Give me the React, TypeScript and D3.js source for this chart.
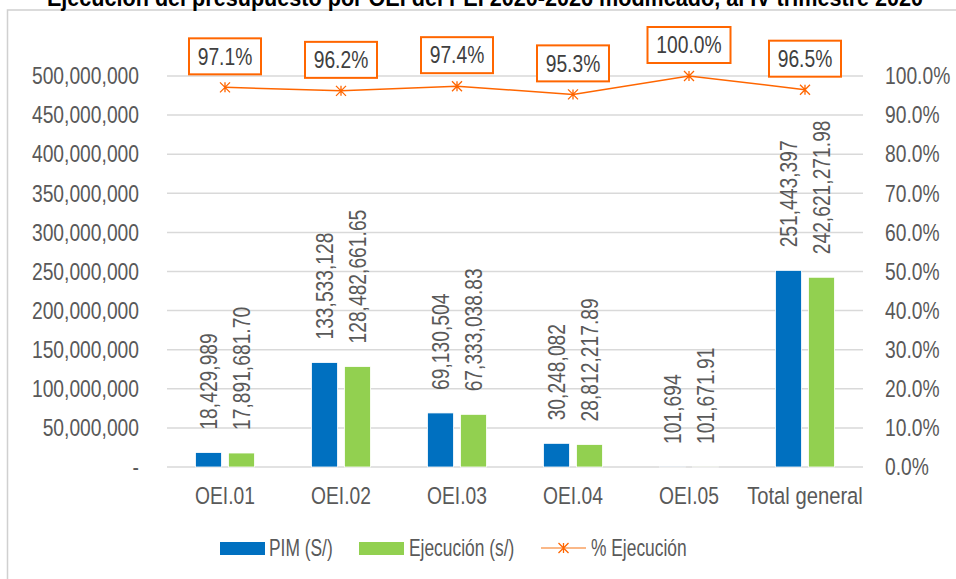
import React from 'react'
import * as d3 from 'd3'

const categories = ['OEI.01', 'OEI.02', 'OEI.03', 'OEI.04', 'OEI.05', 'Total general']
const pim = [18429989, 133533128, 69130504, 30248082, 101694, 251443397]
const ejecucion = [17891681.7, 128482661.65, 67333038.83, 28812217.89, 101671.91, 242621271.98]
const pctEjecucion = [0.971, 0.962, 0.974, 0.953, 1.0, 0.965]
const leftTicks = [0, 50e6, 100e6, 150e6, 200e6, 250e6, 300e6, 350e6, 400e6, 450e6, 500e6]
const rightTicks = [0, 0.1, 0.2, 0.3, 0.4, 0.5, 0.6, 0.7, 0.8, 0.9, 1.0]
const seriesNames = ['PIM (S/)', 'Ejecución (s/)', '% Ejecución']
const title = 'Ejecución del presupuesto por OEI del PEI 2020-2026 modificado, al IV trimestre 2020'

const W = 956
const H = 579
const font = "'Liberation Sans', Arial, sans-serif"
const txt = '#595959'
const blue = '#0070C0'
const green = '#92D050'
const orange = '#FF6600'

// no Arial Narrow here, so Liberation Sans gets squeezed along the text direction
const T = ({ x, y, rot = 0, anchor = 'start', size = 23.5, sx = 0.82, fill = txt, weight = 'normal', dy = '0.35em', children }) => (
  <text
    transform={`translate(${x},${y}) rotate(${rot}) scale(${sx},1)`}
    textAnchor={anchor}
    dy={dy}
    fontSize={size}
    fontWeight={weight}
    fill={fill}
  >
    {children}
  </text>
)

const App = () => {
  const x = d3.scaleBand().domain(categories).range([167, 863])
  const inner = d3.scaleBand().domain(['pim', 'eje']).range([0, x.bandwidth()]).paddingInner(0.212).paddingOuter(0.864)
  const y = d3.scaleLinear().domain([0, 500e6]).range([467, 76])
  const y2 = d3.scaleLinear().domain([0, 1]).range([467, 76])
  const fmtInt = d3.format(',.0f')
  const fmtDec = d3.format(',.2f')
  const fmtPct = d3.format('.1%')
  const cx = (c) => x(c) + x.bandwidth() / 2

  const line = d3
    .line()
    .x((d, i) => cx(categories[i]))
    .y((d) => y2(d))

  const star = (px, py, r) =>
    `M${px},${py - r}L${px},${py + r}M${px - r},${py - r}L${px + r},${py + r}M${px - r},${py + r}L${px + r},${py - r}`

  const bars = [
    { key: 'pim', values: pim, color: blue, fmt: fmtInt },
    { key: 'eje', values: ejecucion, color: green, fmt: fmtDec },
  ]

  return (
    <svg width={W} height={H} style={{ display: 'block', position: 'absolute', left: 0, top: 0 }} fontFamily={font}>
      <rect x={0} y={0} width={W} height={H} fill="#fff" />
      <rect x={7.5} y={10} width={W + 10} height={H + 10} fill="none" stroke="#D0D0D0" strokeWidth={1.5} />
      {/* title is cropped at the top edge, same as the source image */}
      <T x={485} y={6} anchor="middle" size={24} sx={0.9} weight="bold" fill="#000" dy="0">
        {title}
      </T>

      {/* gridlines */}
      {leftTicks.map((t) => (
        <line key={t} x1={167} x2={863} y1={y(t)} y2={y(t)} stroke="#D9D9D9" strokeWidth={1.5} />
      ))}

      {/* left axis */}
      {leftTicks.map((t) => (
        <T key={'l' + t} x={139} y={y(t)} anchor="end">
          {t === 0 ? '-' : fmtInt(t)}
        </T>
      ))}

      {/* right axis */}
      {rightTicks.map((t) => (
        <T key={'r' + t} x={885} y={y2(t)}>
          {fmtPct(t)}
        </T>
      ))}

      {/* category labels */}
      {categories.map((c) => (
        <T key={c} x={cx(c)} y={504} anchor="middle" dy="0" sx={c.length > 6 ? 0.86 : 0.82}>
          {c}
        </T>
      ))}

      {/* bars + labels */}
      {bars.map((s) =>
        s.values.map((v, i) => {
          const bx = x(categories[i]) + inner(s.key)
          const bw = inner.bandwidth()
          return (
            <g key={s.key + i}>
              <rect x={bx} y={y(v)} width={bw} height={y(0) - y(v)} fill={s.color} stroke="#fff" strokeWidth={0.8} />
              <T x={bx + bw / 2} y={y(v) - 23} rot={-90}>
                {s.fmt(v)}
              </T>
            </g>
          )
        })
      )}

      {/* % line */}
      <path d={line(pctEjecucion)} fill="none" stroke={orange} strokeWidth={1.5} />
      {pctEjecucion.map((p, i) => (
        <path key={'m' + i} d={star(cx(categories[i]), y2(p), 5)} stroke={orange} strokeWidth={1.3} fill="none" />
      ))}
      {pctEjecucion.map((p, i) => {
        const label = fmtPct(p)
        const bw = label.length === 6 ? 83 : 72
        const px = cx(categories[i])
        const bottom = y2(p) - 13
        return (
          <g key={'b' + i}>
            <rect x={px - bw / 2} y={bottom - 36} width={bw} height={36} fill="#fff" stroke={orange} strokeWidth={2} />
            <T x={px} y={bottom - 18} anchor="middle" fill="#404040">
              {label}
            </T>
          </g>
        )
      })}

      {/* legend */}
      <g>
        <rect x={220} y={542} width={45} height={13} fill={blue} />
        <T x={269} y={548} sx={0.74}>{seriesNames[0]}</T>
        <rect x={359} y={542} width={45} height={13} fill={green} />
        <T x={409} y={548} sx={0.74}>{seriesNames[1]}</T>
        <line x1={541} x2={586} y1={548} y2={548} stroke="#F9A060" strokeWidth={1.5} />
        <path d={star(563.5, 548, 5)} stroke={orange} strokeWidth={1.3} fill="none" />
        <T x={591} y={548} sx={0.74}>{seriesNames[2]}</T>
      </g>
    </svg>
  )
}

export default App
